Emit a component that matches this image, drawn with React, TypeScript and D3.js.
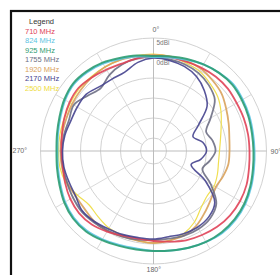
import React from "react";
import * as d3 from "d3";

const angles = d3.range(0, 360, 10);
const seriesNames = ["710 MHz", "824 MHz", "925 MHz", "1755 MHz", "1920 MHz", "2170 MHz", "2500 MHz"];
const seriesColors = ["#e04358", "#5cc4e2", "#2f9d72", "#6e6f84", "#d9a25c", "#45438e", "#eedc3e"];
const seriesWidths = [1.8, 2, 2, 1.8, 1.8, 1.6, 1.2];

const db710 = [0.5,0.5,0.5,0.75,1.0,1.0,0.75,0.75,0.75,0.75,1.0,1.5,1.75,1.75,1.5,1.0,0.5,-0.25,-0.75,-1.0,-0.75,0,0.75,1.0,0.75,0.25,-0.25,-0.25,0,0.5,1.0,1.25,0.75,0.25,0,0.25];
const db824 = [0.25,0.5,1.0,1.75,2.25,2.75,2.5,2.25,2.0,2.0,2.25,2.75,3.25,3.5,3.5,3.0,2.5,2.0,1.75,1.5,1.75,2.25,2.75,2.75,2.25,1.5,1.0,0.75,1.0,1.5,2.25,2.75,2.5,2.0,1.25,0.75];
const db925 = [0.5,0.75,1.25,1.75,2.25,2.5,2.25,2.0,1.75,1.75,2.0,2.5,3.0,3.25,3.25,3.0,2.5,2.0,1.75,1.75,2.0,2.5,3.0,3.0,2.5,1.75,1.25,1.0,1.25,1.75,2.5,3.0,2.75,2.25,1.5,1.0];
const db1755 = [0.25,0,-0.25,-0.75,-1.75,-3.25,-6.75,-9.25,-8.25,-7.75,-9,-10.25,-6.75,-2.75,-1.25,-0.75,-0.75,-1.0,-1.0,-0.75,-0.5,-0.25,0,0.25,0,-0.25,-0.25,-0.25,-0.5,-0.75,-0.25,-1.75,-2.75,-1.25,-0.25,0.25];
const db1920 = [0.75,0.75,0.75,0.5,-0.25,-1.0,-2.25,-3.25,-4,-4.25,-4.25,-4.75,-5.25,-4.5,-3.25,-1.75,-0.75,-0.5,-0.25,-0.5,-0.5,-0.25,-0.25,-0.75,-0.75,-0.25,0,0,0,0,0.25,0.5,0.75,1.0,1.0,0.75];
const db2170 = [0,-0.25,-0.75,-1.75,-3.5,-5.75,-10.25,-12.75,-10.75,-10,-11.25,-13.25,-8.25,-3.25,-1.75,-1.25,-1.25,-1.5,-1.25,-1.25,-1.0,-0.75,-0.25,0,-0.75,-0.75,-0.5,-0.5,-0.75,-1.25,-1.25,-1.25,-2.25,-2.5,-2.25,-0.75];
const db2500 = [1.0,0.75,0.25,-0.25,-1.25,-2.25,-3.75,-5.25,-6.25,-6.75,-6.75,-6.25,-5.75,-5.75,-4.75,-2.75,-1.25,-0.5,-0.25,-0.5,-0.75,-1.0,-1.75,-2.25,-1.25,0,0.5,0.5,0.5,0.5,0.75,1.0,1.0,1.0,1.0,1.0];

const seriesValues = [db710, db824, db925, db1755, db1920, db2170, db2500];
const drawOrder = [6, 4, 3, 0, 5, 1, 2];

const ringLevels = [-20, -15, -10, -5, 0, 5];
const ringLabels = [{ level: 5, text: "5dBi" }, { level: 0, text: "0dBi" }];
const spokeAngles = d3.range(0, 360, 30);
const angleLabels = ["0°", "90°", "180°", "270°"];

export default function App() {
  const W = 280, H = 275;
  const cx = 153.5, cy = 151;
  const r = d3.scaleLinear().domain([-20, 5]).range([13, 113]);
  const R = r(5);
  const rad = (a: number) => (a * Math.PI) / 180;

  const line = d3
    .lineRadial<number>()
    .angle((_, i) => rad(angles[i]))
    .radius((d) => r(d))
    .curve(d3.curveCatmullRomClosed.alpha(0.5));

  return (
    <svg
      width={W}
      height={H}
      style={{ position: "absolute", left: 0, top: 0, background: "#fff" }}
      fontFamily="Liberation Sans, Arial, sans-serif"
    >
      <rect x={0} y={0} width={W} height={H} fill="#fff" />
      <rect x={11} y={11} width={400} height={400} fill="none" stroke="#111" strokeWidth={2.2} />
      <g transform={`translate(${cx},${cy})`}>
        {ringLevels.map((l) => (
          <circle key={l} r={r(l)} fill="none" stroke="#d2d2d2" strokeWidth={1} />
        ))}
        {spokeAngles.map((a) => {
          const major = a % 90 === 0;
          return (
            <line
              key={a}
              x1={major ? 0 : r(-20) * Math.sin(rad(a))}
              y1={major ? 0 : -r(-20) * Math.cos(rad(a))}
              x2={R * Math.sin(rad(a))}
              y2={-R * Math.cos(rad(a))}
              stroke={major ? "#bdbdbd" : "#dadada"}
              strokeWidth={1}
            />
          );
        })}
        {ringLabels.map((d) => (
          <text key={d.text} x={3} y={-r(d.level) + 7} fontSize={6.5} fill="#777">
            {d.text}
          </text>
        ))}
        <text x={-1} y={-R - 6} fontSize={7} fill="#666">{angleLabels[0]}</text>
        <text x={R + 4} y={2.5} fontSize={7} fill="#666">{angleLabels[1]}</text>
        <text x={-7} y={R + 8} fontSize={7} fill="#666">{angleLabels[2]}</text>
        <text x={-R - 28} y={2} fontSize={7} fill="#666">{angleLabels[3]}</text>
        {drawOrder.map((i) => (
          <path
            key={i}
            d={line(seriesValues[i]) || ""}
            fill="none"
            stroke={seriesColors[i]}
            strokeWidth={seriesWidths[i]}
            strokeOpacity={0.9}
          />
        ))}
      </g>
      <g fontSize={7.5}>
        <text x={29} y={24} fill="#333">Legend</text>
        {seriesNames.map((n, i) => (
          <text key={n} x={25} y={33.5 + i * 9.5} fill={seriesColors[i]}>
            {n}
          </text>
        ))}
      </g>
    </svg>
  );
}
